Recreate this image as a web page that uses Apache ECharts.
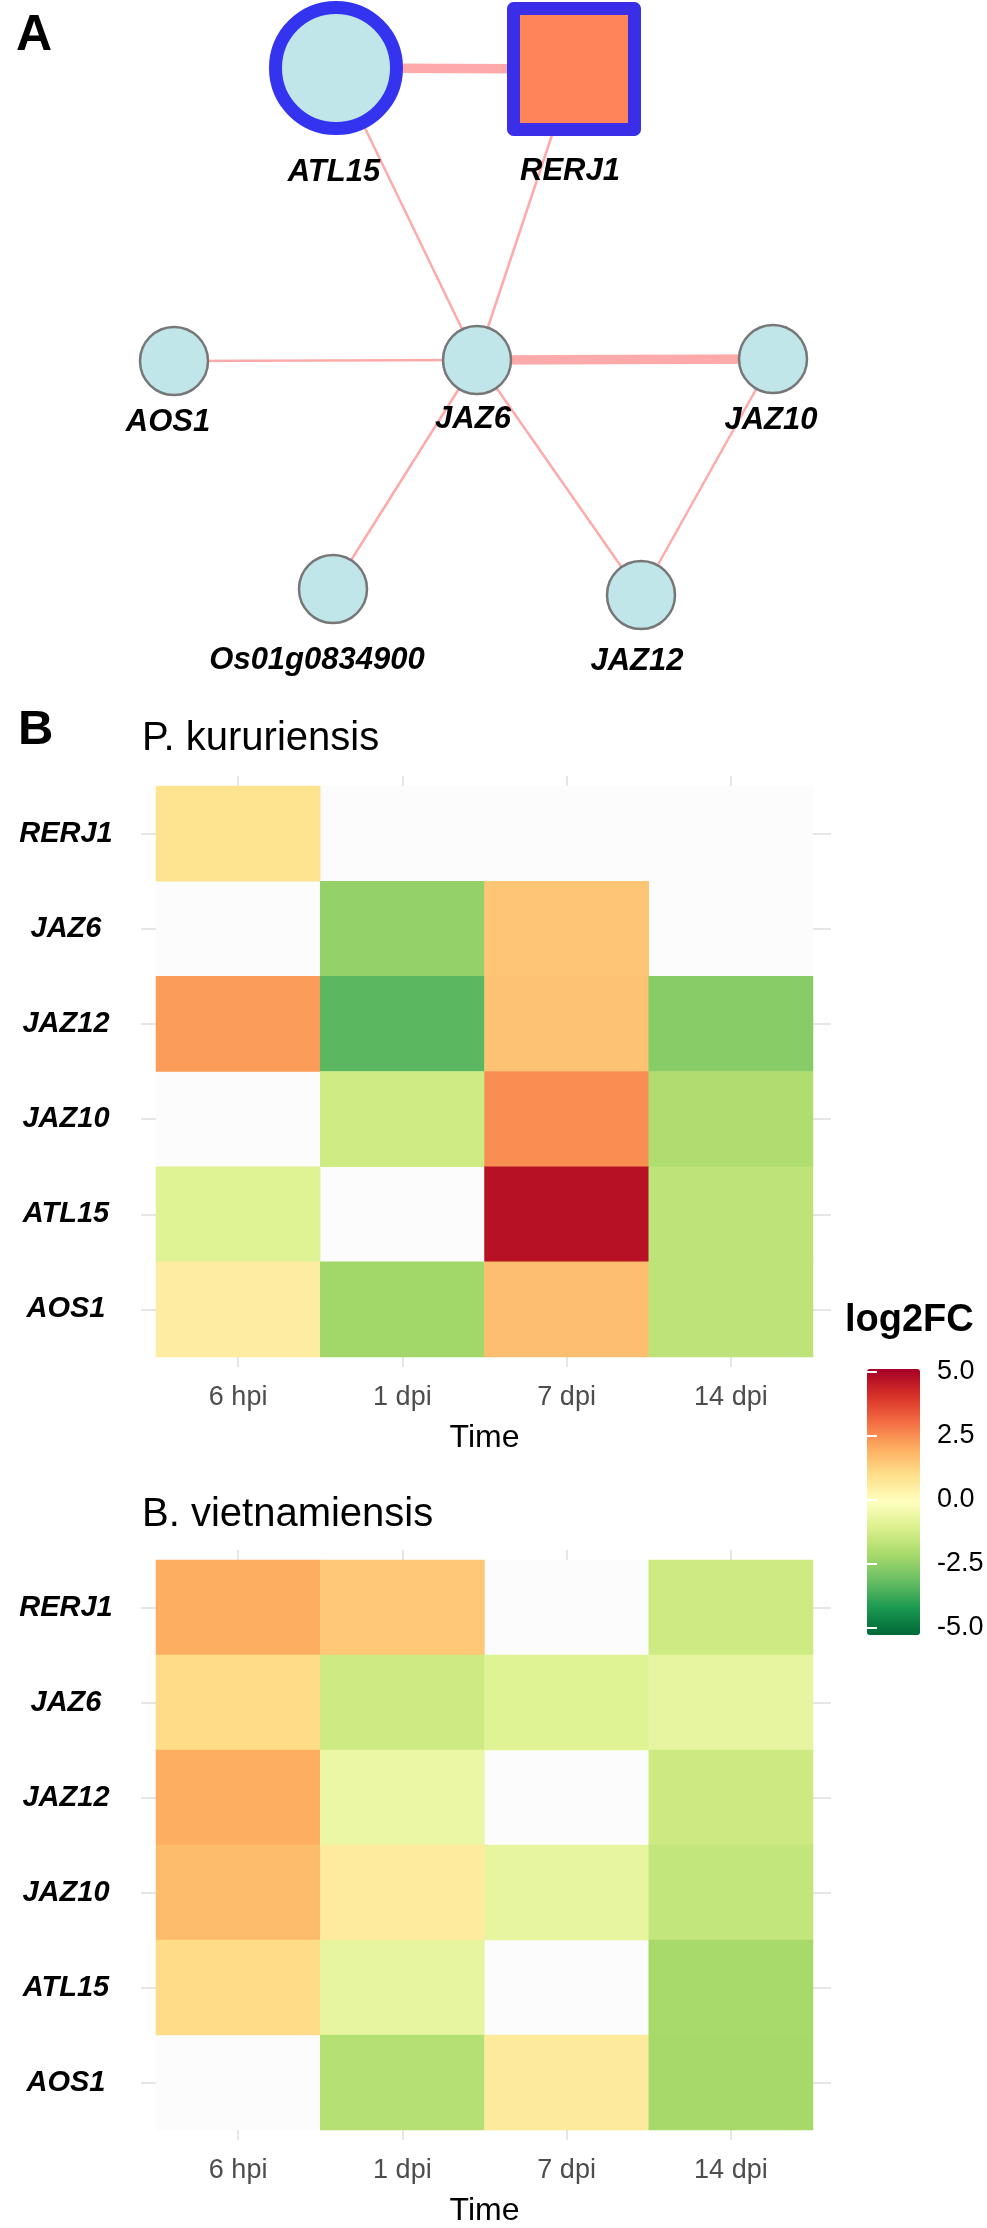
<!DOCTYPE html>
<html>
<head>
<meta charset="utf-8">
<script src="https://cdn.jsdelivr.net/npm/echarts@6/dist/echarts.min.js"></script>
<style>
  html, body { margin: 0; padding: 0; background: #ffffff; }
  #chart { width: 987px; height: 2228px; }
</style>
</head>
<body>
<div id="chart"></div>
<script>
// ---------------- data ----------------
const timePoints = ['6 hpi', '1 dpi', '7 dpi', '14 dpi'];
const genes = ['RERJ1', 'JAZ6', 'JAZ12', 'JAZ10', 'ATL15', 'AOS1'];

// log2FC, rows = genes (top to bottom), cols = time points; null = not significant / NA
const pkLog2FC = [
  [0.85, null, null, null],
  [null, -2.43, 1.53, null],
  [2.28, -3.33, 1.60, -2.63],
  [null, -1.31, 2.52, -1.96],
  [-0.93, null, 4.75, -1.67],
  [0.54, -2.20, 1.66, -1.67]
];
const bvLog2FC = [
  [2.00, 1.47, null, -1.35],
  [1.05, -1.35, -0.93, -0.69],
  [2.00, -0.61, null, -1.37],
  [1.74, 0.60, -0.70, -1.57],
  [1.05, -0.70, null, -2.10],
  [null, -1.83, 0.64, -2.14]
];

const legendTicks = [-5, -2.5, 0, 2.5, 5];
const colorMin = -5.25, colorMax = 5.12;

// network: nodes with layout coordinates, edges with weight
const nodeNames = ['ATL15', 'RERJ1', 'AOS1', 'JAZ6', 'JAZ10', 'Os01g0834900', 'JAZ12'];
const nodeX = [336, 574, 174, 477, 773, 333, 641];
const nodeY = [68, 69, 361, 360, 359, 589, 595];
const edgeSource = ['ATL15', 'ATL15', 'RERJ1', 'AOS1', 'JAZ6', 'JAZ6', 'JAZ6', 'JAZ10'];
const edgeTarget = ['RERJ1', 'JAZ6', 'JAZ6', 'JAZ6', 'JAZ10', 'Os01g0834900', 'JAZ12', 'JAZ12'];
const edgeWeight = [3, 1, 1, 1, 3, 1, 1, 1];

// ---------------- styles ----------------
const RdYlGn = ['#006837', '#1a9850', '#66bd63', '#a6d96a', '#d9ef8b', '#ffffbf',
                '#fee08b', '#fdae61', '#f46d43', '#d73027', '#a50026'];
const nodeStyle = {
  ATL15:  { symbol: 'circle', size: 121, fill: '#c1e6ea', border: '#3434f0', bw: 13, dist: 22, dx: -2 },
  RERJ1:  { symbol: 'rect',   size: 121, fill: '#ff845a', border: '#3a2ee8', bw: 13, dist: 20, dx: -4 },
  AOS1:   { symbol: 'circle', size: 68,  fill: '#c1e6ea', border: '#777777', bw: 2.5, dist: 11, dx: -6 },
  JAZ6:   { symbol: 'circle', size: 68,  fill: '#c1e6ea', border: '#777777', bw: 2.5, dist: 9,  dx: -4 },
  JAZ10:  { symbol: 'circle', size: 68,  fill: '#c1e6ea', border: '#777777', bw: 2.5, dist: 11, dx: -2 },
  'Os01g0834900': { symbol: 'circle', size: 68, fill: '#c1e6ea', border: '#777777', bw: 2.5, dist: 21, dx: -16 },
  JAZ12:  { symbol: 'circle', size: 68,  fill: '#c1e6ea', border: '#777777', bw: 2.5, dist: 16, dx: -4 }
};
const boldItalic = { fontFamily: 'Liberation Sans', fontWeight: 'bold', fontStyle: 'italic', color: '#000' };
const gridTick = { show: true, alignWithLabel: true, length: 10, lineStyle: { color: '#e6e6e6', width: 2 } };

// ---------------- build ----------------
const graphNodes = nodeNames.map((n, i) => {
  const s = nodeStyle[n];
  return {
    name: n,
    value: [nodeX[i], nodeY[i]],
    symbol: s.symbol,
    symbolSize: s.size,
    itemStyle: { color: s.fill, borderColor: s.border, borderWidth: s.bw, borderJoin: 'round' },
    label: { show: true, position: 'bottom', distance: s.dist, offset: [s.dx, 0],
             fontSize: 31, lineHeight: 31, ...boldItalic }
  };
});
const graphLinks = edgeSource.map((s, i) => ({
  source: s, target: edgeTarget[i],
  lineStyle: { width: edgeWeight[i] > 1 ? 9.5 : 2.5, color: '#ffaaaa', opacity: 1, curveness: 0 }
}));

function cells(matrix, wantNA) {
  const out = [];
  matrix.forEach((row, r) => row.forEach((v, c) => {
    if ((v === null) === wantNA) out.push([c, r, v === null ? 0 : v]);
  }));
  return out;
}

function heatAxes(gridIndex) {
  return {
    x: [
      { type: 'category', gridIndex, data: timePoints, position: 'bottom',
        axisLine: { show: false }, axisTick: gridTick,
        axisLabel: { margin: 27, fontSize: 27, lineHeight: 27, color: '#4d4d4d', fontFamily: 'Liberation Sans' },
        name: 'Time', nameLocation: 'middle', nameGap: 65,
        nameTextStyle: { fontSize: 32, lineHeight: 32, color: '#000', fontFamily: 'Liberation Sans' },
        splitLine: { show: false } },
      { type: 'category', gridIndex, data: timePoints, position: 'top',
        axisLine: { show: false }, axisTick: gridTick, axisLabel: { show: false }, splitLine: { show: false } }
    ],
    y: [
      { type: 'category', gridIndex, data: genes, inverse: true, position: 'left',
        axisLine: { show: false }, axisTick: Object.assign({}, gridTick, { length: 15 }),
        axisLabel: { margin: 90, align: 'center', fontSize: 29, ...boldItalic },
        splitLine: { show: false } },
      { type: 'category', gridIndex, data: genes, inverse: true, position: 'right',
        axisLine: { show: false }, axisTick: Object.assign({}, gridTick, { length: 18 }),
        axisLabel: { show: false }, splitLine: { show: false } }
    ]
  };
}
const ax1 = heatAxes(1), ax2 = heatAxes(2);

const legendTickStyle = { show: true, inside: true, length: 10, lineStyle: { color: '#ffffff', width: 2 } };

const option = {
  backgroundColor: '#ffffff',
  animation: false,
  title: [
    { text: 'A', left: 16, top: 11, padding: 0,
      textStyle: { fontSize: 50, lineHeight: 50, fontWeight: 'bold', color: '#000', fontFamily: 'Liberation Sans' } },
    { text: 'B', left: 18, top: 706, padding: 0,
      textStyle: { fontSize: 49, lineHeight: 49, fontWeight: 'bold', color: '#000', fontFamily: 'Liberation Sans' } },
    { text: 'P. kururiensis', left: 142, top: 719, padding: 0,
      textStyle: { fontSize: 40, lineHeight: 40, fontWeight: 'normal', color: '#000', fontFamily: 'Liberation Sans' } },
    { text: 'B. vietnamiensis', left: 142, top: 1495, padding: 0,
      textStyle: { fontSize: 40, lineHeight: 40, fontWeight: 'normal', color: '#000', fontFamily: 'Liberation Sans' } },
    { text: 'log2FC', left: 845, top: 1302, padding: 0,
      textStyle: { fontSize: 38, lineHeight: 38, fontWeight: 'bold', color: '#000', fontFamily: 'Liberation Sans' } }
  ],
  grid: [
    { left: 0, top: 0, width: 987, height: 700 },
    { left: 156, top: 786, width: 657, height: 571 },
    { left: 156, top: 1560, width: 657, height: 571 },
    { left: 867, top: 1372, width: 53, height: 256 }
  ],
  xAxis: [
    { type: 'value', gridIndex: 0, min: 0, max: 987, show: false },
    ...ax1.x, ...ax2.x,
    { type: 'value', gridIndex: 3, min: 0, max: 1, show: false }
  ],
  yAxis: [
    { type: 'value', gridIndex: 0, min: 0, max: 700, inverse: true, show: false },
    ...ax1.y, ...ax2.y,
    { type: 'value', gridIndex: 3, min: -5, max: 5, interval: 2.5, position: 'right', z: 10,
      axisLine: { show: false }, splitLine: { show: false }, axisTick: legendTickStyle,
      axisLabel: { margin: 17, fontSize: 27, color: '#000', fontFamily: 'Liberation Sans',
                   formatter: v => legendTicks.indexOf(v) >= 0 ? v.toFixed(1) : '' } },
    { type: 'value', gridIndex: 3, min: -5, max: 5, interval: 2.5, position: 'left', z: 10,
      axisLine: { show: false }, splitLine: { show: false }, axisTick: legendTickStyle,
      axisLabel: { show: false } }
  ],
  visualMap: {
    type: 'continuous', min: colorMin, max: colorMax, seriesIndex: [2, 4],
    calculable: false, orient: 'vertical', left: 867, top: 1369, padding: 0,
    itemWidth: 53, itemHeight: 266, text: null, showLabel: false, hoverLink: false,
    inRange: { color: RdYlGn }
  },
  series: [
    { type: 'graph', layout: 'none', coordinateSystem: 'cartesian2d', xAxisIndex: 0, yAxisIndex: 0,
      data: graphNodes, links: graphLinks, roam: false, emphasis: { disabled: true }, z: 2 },
    { type: 'heatmap', xAxisIndex: 1, yAxisIndex: 1, data: cells(pkLog2FC, true),
      itemStyle: { color: '#fcfcfc' }, emphasis: { disabled: true } },
    { type: 'heatmap', xAxisIndex: 1, yAxisIndex: 1, data: cells(pkLog2FC, false),
      emphasis: { disabled: true } },
    { type: 'heatmap', xAxisIndex: 3, yAxisIndex: 3, data: cells(bvLog2FC, true),
      itemStyle: { color: '#fcfcfc' }, emphasis: { disabled: true } },
    { type: 'heatmap', xAxisIndex: 3, yAxisIndex: 3, data: cells(bvLog2FC, false),
      emphasis: { disabled: true } }
  ]
};

const chart = echarts.init(document.getElementById('chart'), null, { renderer: 'canvas' });
chart.setOption(option);
</script>
</body>
</html>
